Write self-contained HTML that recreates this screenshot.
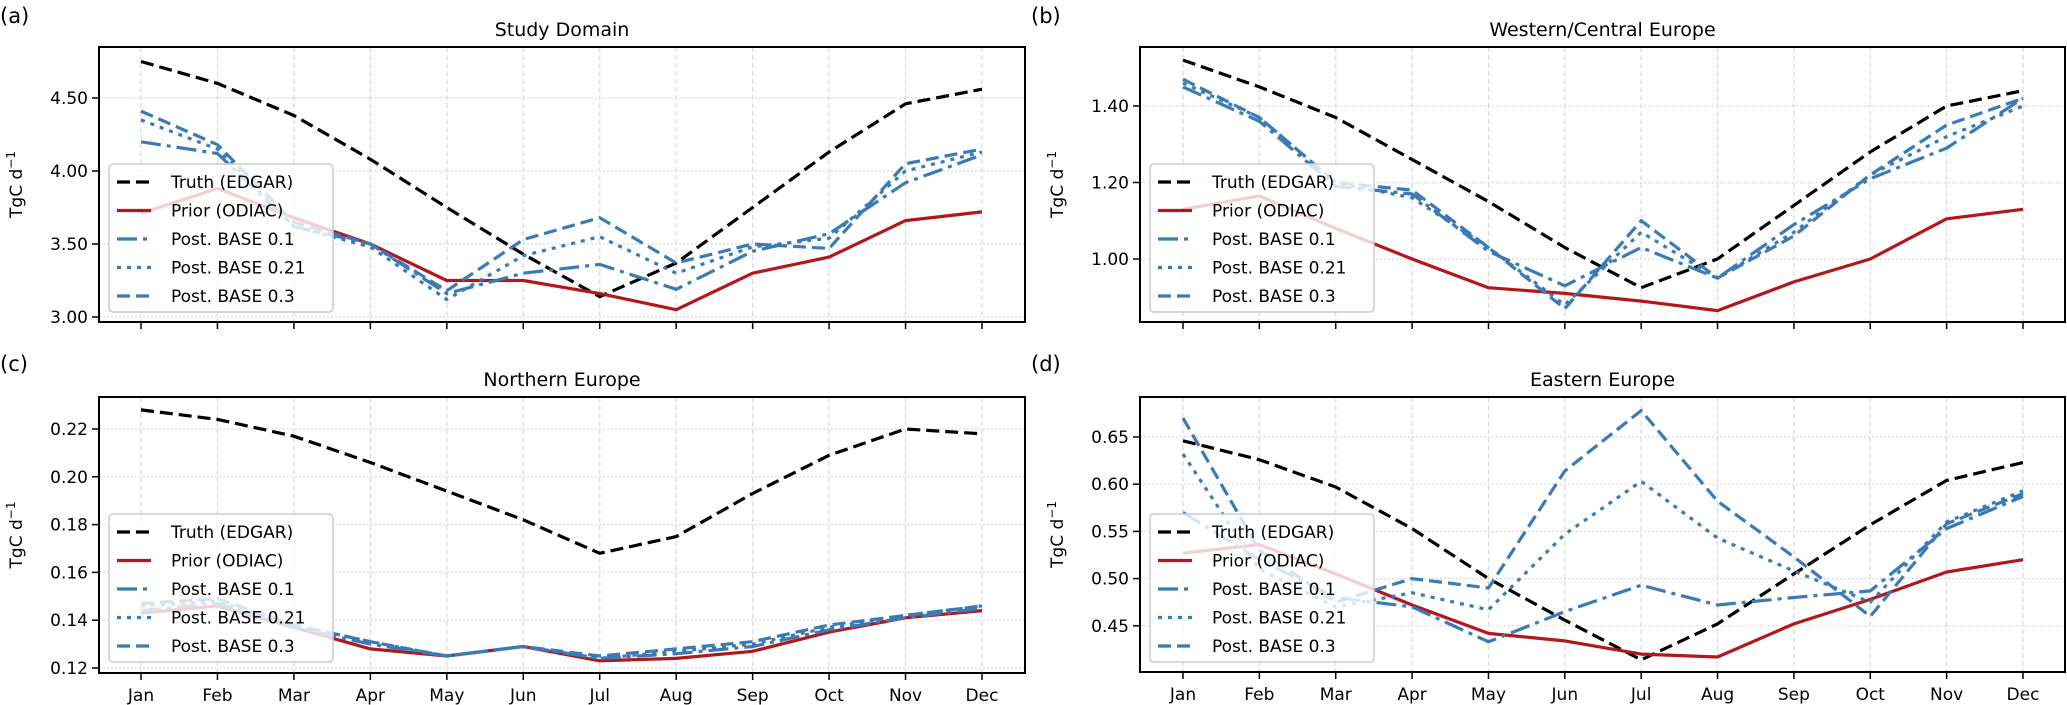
<!DOCTYPE html>
<html><head><meta charset="utf-8">
<style>
html,body{margin:0;padding:0;background:#fff;}
svg{display:block;font-family:"DejaVu Sans","Liberation Sans",sans-serif;}
</style></head>
<body>
<svg id="fig" width="2067" height="705" viewBox="0 0 2067 705" xmlns="http://www.w3.org/2000/svg"></svg>
<script>
const months = ["Jan","Feb","Mar","Apr","May","Jun","Jul","Aug","Sep","Oct","Nov","Dec"];
const seriesNames = ["Truth (EDGAR)","Prior (ODIAC)"," Post. BASE 0.1","Post. BASE 0.21","Post. BASE 0.3"];

const aTruth = [4.75,4.60,4.38,4.08,3.75,3.43,3.14,3.37,3.75,4.13,4.46,4.56];
const aPrior = [3.71,3.88,3.68,3.50,3.25,3.25,3.16,3.05,3.30,3.41,3.66,3.72];
const aB01 = [4.20,4.12,3.62,3.50,3.16,3.30,3.36,3.19,3.45,3.57,3.92,4.11];
const aB021 = [4.35,4.15,3.62,3.48,3.12,3.42,3.55,3.30,3.48,3.54,4.00,4.13];
const aB03 = [4.41,4.18,3.65,3.50,3.18,3.53,3.68,3.37,3.50,3.47,4.05,4.15];
const aTicks = [3.00,3.50,4.00,4.50];

const bTruth = [1.52,1.45,1.37,1.26,1.15,1.03,0.925,1.00,1.14,1.28,1.40,1.44];
const bPrior = [1.13,1.165,1.08,1.00,0.925,0.91,0.89,0.865,0.94,1.00,1.105,1.13];
const bB01 = [1.45,1.36,1.19,1.17,1.02,0.93,1.03,0.95,1.09,1.21,1.29,1.42];
const bB021 = [1.46,1.37,1.20,1.16,1.03,0.88,1.07,0.95,1.07,1.22,1.32,1.40];
const bB03 = [1.47,1.37,1.20,1.18,1.03,0.87,1.10,0.95,1.06,1.22,1.35,1.42];
const bTicks = [1.00,1.20,1.40];

const cTruth = [0.228,0.224,0.217,0.206,0.194,0.182,0.168,0.175,0.193,0.209,0.220,0.218];
const cPrior = [0.143,0.146,0.137,0.128,0.125,0.129,0.123,0.124,0.127,0.135,0.141,0.144];
const cB01 = [0.144,0.147,0.137,0.130,0.125,0.129,0.124,0.126,0.129,0.136,0.141,0.145];
const cB021 = [0.146,0.148,0.138,0.131,0.125,0.129,0.124,0.127,0.130,0.137,0.142,0.146];
const cB03 = [0.147,0.149,0.138,0.131,0.125,0.129,0.125,0.128,0.131,0.138,0.142,0.146];
const cTicks = [0.12,0.14,0.16,0.18,0.20,0.22];

const dTruth = [0.646,0.626,0.597,0.553,0.500,0.456,0.414,0.452,0.505,0.557,0.604,0.623];
const dPrior = [0.527,0.536,0.505,0.472,0.442,0.434,0.420,0.417,0.452,0.478,0.507,0.520];
const dB01 = [0.570,0.520,0.480,0.470,0.433,0.465,0.493,0.472,0.480,0.487,0.553,0.587];
const dB021 = [0.632,0.510,0.470,0.485,0.467,0.547,0.603,0.543,0.508,0.475,0.560,0.593];
const dB03 = [0.670,0.530,0.475,0.500,0.490,0.614,0.678,0.582,0.523,0.460,0.558,0.590];
const dTicks = [0.45,0.50,0.55,0.60,0.65];

const NS="http://www.w3.org/2000/svg";
const svg=document.getElementById('fig');
function el(tag,attrs,parent){const e=document.createElementNS(NS,tag);for(const k in attrs)e.setAttribute(k,attrs[k]);(parent||svg).appendChild(e);return e;}

const styles=[
 {color:"#000000",dash:"13,6"},
 {color:"#b2171c",dash:""},
 {color:"#3b7bb5",dash:"20,6,4,6"},
 {color:"#3b7bb5",dash:"4,6"},
 {color:"#3b7bb5",dash:"13,6"}
];

const panels=[
 {key:"a",title:"Study Domain",x0:99,x1:1025,y0:47,y1:322,jan:141,dec:982,tv:4.5,ty:98,slope:146,ticks:aTicks,dec2:2,data:[aTruth,aPrior,aB01,aB021,aB03],lab:true,legTop:164,lx:109,labelY:15,titleY:29,showMonths:false},
 {key:"b",title:"Western/Central Europe",x0:1140,x1:2065,y0:47,y1:322,jan:1183,dec:2023,tv:1.4,ty:106,slope:382.5,ticks:bTicks,dec2:2,data:[bTruth,bPrior,bB01,bB021,bB03],legTop:164,lx:1150,labelY:15,titleY:29,showMonths:false},
 {key:"c",title:"Northern Europe",x0:99,x1:1025,y0:397,y1:673,jan:141,dec:982,tv:0.22,ty:429,slope:2390,ticks:cTicks,dec2:2,data:[cTruth,cPrior,cB01,cB021,cB03],legTop:514,lx:109,labelY:363,titleY:379,showMonths:true},
 {key:"d",title:"Eastern Europe",x0:1140,x1:2065,y0:397,y1:672,jan:1183,dec:2023,tv:0.65,ty:437,slope:944,ticks:dTicks,dec2:2,data:[dTruth,dPrior,dB01,dB021,dB03],legTop:514,lx:1150,labelY:363,titleY:379,showMonths:true}
];
const seriesKeys=["truth","prior","base-0-1","base-0-21","base-0-3"];

panels.forEach(p=>{
 const g=el('g',{});
 
 
 const xs=i=>p.jan+(p.dec-p.jan)*i/11;
 const ys=v=>p.ty+(p.tv-v)*p.slope;
 const lbl=el('text',{x:(p.key==='a'||p.key==='c')?0:1031,y:p.labelY+8,'font-size':21,fill:'#000'},g);
 lbl.textContent='('+p.key+')';
 
 
 const t=el('text',{x:(p.x0+p.x1)/2,y:p.titleY+7,'font-size':19,'text-anchor':'middle',fill:'#000'},g);
 t.textContent=p.title;
 
 
 // grid
 months.forEach((m,i)=>{
  const gl=el('line',{x1:xs(i),x2:xs(i),y1:p.y0,y2:p.y1,stroke:'#d9d9d9','stroke-width':1.2,'stroke-dasharray':'5,3'},g);
  
  
  const tk=el('line',{x1:xs(i),x2:xs(i),y1:p.y1,y2:p.y1+7,stroke:'#000','stroke-width':1.5},g);
  
  
  if(p.showMonths){
   const tl=el('text',{x:xs(i),y:p.y1+28,'font-size':17,'text-anchor':'middle',fill:'#000'},g);
   tl.textContent=m;
   
   
  }
 });
 p.ticks.forEach(v=>{
  const y=ys(v);
  const gl=el('line',{x1:p.x0,x2:p.x1,y1:y,y2:y,stroke:'#d9d9d9','stroke-width':1.2,'stroke-dasharray':'2,2'},g);
  
  
  const tk=el('line',{x1:p.x0-7,x2:p.x0,y1:y,y2:y,stroke:'#000','stroke-width':1.5},g);
  
  
  const tl=el('text',{x:p.x0-11,y:y+6,'font-size':17,'text-anchor':'end',fill:'#000'},g);
  tl.textContent=v.toFixed(p.dec2);
  
  
 });
 const ylx=p.x0-77, yly=(p.y0+p.y1)/2;
 const yl=el('text',{x:ylx,y:yly,'font-size':17,'text-anchor':'middle',fill:'#000',transform:`rotate(-90 ${ylx} ${yly})`},g);
 yl.innerHTML='TgC d<tspan dy="-7" font-size="12">−1</tspan>';
 
 
 // series
 p.data.forEach((arr,si)=>{
  const pts=arr.map((v,i)=>xs(i).toFixed(1)+','+ys(v).toFixed(1)).join(' ');
  const a={points:pts,fill:'none',stroke:styles[si].color,'stroke-width':3.2,'stroke-linejoin':'round'};
  if(styles[si].dash)a['stroke-dasharray']=styles[si].dash;
  const pl=el('polyline',a,g);
  
  
 });
 // frame
 const fr=el('rect',{x:p.x0,y:p.y0,width:p.x1-p.x0,height:p.y1-p.y0,fill:'none',stroke:'#000','stroke-width':2},g);
 
 
 // legend
 const lg=el('g',{},g);
 
 
 const lb=el('rect',{x:p.lx,y:p.legTop,width:224,height:148,rx:4,fill:'#fff','fill-opacity':0.8,stroke:'#cccccc','stroke-width':1.5},lg);
 
 
 seriesNames.forEach((n,si)=>{
  const cy=p.legTop+18+si*28.5;
  const a={x1:p.lx+8,x2:p.lx+42,y1:cy,y2:cy,stroke:styles[si].color,'stroke-width':3.2};
  if(styles[si].dash)a['stroke-dasharray']=styles[si].dash;
  const ln=el('line',a,lg);
  
  
  const tx=el('text',{x:p.lx+62,y:cy+6,'font-size':17,fill:'#000','xml:space':'preserve'},lg);
  tx.textContent=n;
  
  
 });
});
</script>
</body></html>
